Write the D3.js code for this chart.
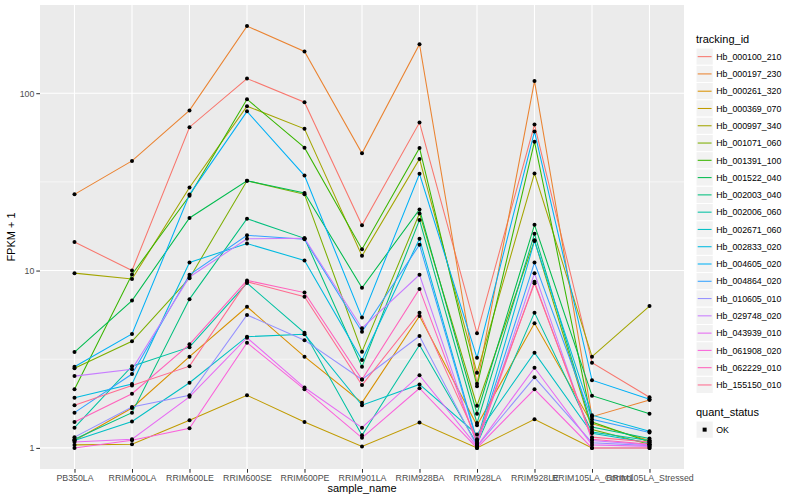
<!DOCTYPE html>
<html>
<head>
<meta charset="utf-8">
<script src="https://cdn.jsdelivr.net/npm/d3@7"></script>
<style>
  body { margin: 0; background: #fff; }
  svg text { font-family: "Liberation Sans", Arial, sans-serif; }
</style>
</head>
<body>
<div id="chart"></div>
<script>
// Samples along the x axis
const samples = ["PB350LA", "RRIM600LA", "RRIM600LE", "RRIM600SE", "RRIM600PE",
    "RRIM901LA", "RRIM928BA", "RRIM928LA", "RRIM928LE", "RRIM105LA_Control", "RRIM105LA_Stressed"];

// Gene ids (legend order)
const trackingIds = ["Hb_000100_210", "Hb_000197_230", "Hb_000261_320", "Hb_000369_070",
    "Hb_000997_340", "Hb_001071_060", "Hb_001391_100", "Hb_001522_040", "Hb_002003_040",
    "Hb_002006_060", "Hb_002671_060", "Hb_002833_020", "Hb_004605_020", "Hb_004864_020",
    "Hb_010605_010", "Hb_029748_020", "Hb_043939_010", "Hb_061908_020", "Hb_062229_010",
    "Hb_155150_010"];

// FPKM + 1 per gene, one value per sample
const fpkm = [
    [14.5, 10.0, 64.3, 121, 89, 18.0, 68.3, 4.43, 66.5, 3.02, 1.93],
    [26.9, 41.5, 80, 239, 172, 45.8, 189, 2.3, 117, 1.50, 1.86],
    [1.10, 1.68, 3.27, 6.25, 3.27, 1.80, 5.54, 1.34, 5.04, 1.37, 1.10],
    [1.04, 1.05, 1.43, 1.98, 1.40, 1.02, 1.39, 1.00, 1.45, 1.00, 1.00],
    [9.67, 8.97, 29.4, 84.5, 63, 12.1, 42.6, 2.65, 35.3, 3.27, 6.31],
    [2.81, 3.99, 9.06, 32.1, 26.9, 3.49, 21.0, 1.73, 14.8, 1.27, 1.05],
    [2.14, 9.5, 26.4, 92.5, 49.3, 13.2, 49.1, 2.23, 53.3, 1.40, 1.08],
    [3.47, 6.77, 19.8, 32.1, 27.4, 8.0, 22.1, 1.56, 18.1, 1.97, 1.56],
    [1.12, 1.58, 6.9, 19.6, 15.2, 2.87, 19.3, 1.38, 16.1, 1.31, 1.13],
    [1.30, 2.89, 3.7, 8.5, 4.46, 1.18, 3.80, 1.05, 5.79, 1.23, 1.10],
    [1.10, 1.41, 2.33, 4.24, 4.37, 1.74, 2.28, 1.19, 3.44, 1.21, 1.07],
    [1.92, 2.29, 11.1, 14.2, 11.4, 3.13, 15.1, 1.10, 14.7, 1.53, 1.24],
    [2.87, 4.39, 26.8, 79, 34.3, 5.43, 35.1, 3.22, 60.8, 2.41, 1.88],
    [1.58, 2.61, 9.47, 15.8, 15.0, 4.52, 14.0, 1.08, 11.1, 1.45, 1.22],
    [1.15, 1.70, 1.98, 5.62, 4.05, 2.43, 4.27, 1.02, 2.50, 1.07, 1.03],
    [2.54, 2.78, 9.2, 15.1, 15.2, 4.73, 9.47, 1.04, 9.67, 1.10, 1.04],
    [1.08, 1.12, 1.94, 4.18, 2.19, 1.30, 2.57, 1.02, 2.83, 1.04, 1.02],
    [1.00, 1.105, 1.29, 3.92, 2.14, 1.14, 2.17, 1.00, 2.14, 1.00, 1.00],
    [1.40, 2.02, 3.84, 8.8, 7.51, 2.43, 7.88, 1.06, 8.65, 1.12, 1.05],
    [1.74, 2.25, 2.89, 8.65, 7.11, 2.26, 5.79, 1.12, 8.47, 1.15, 1.08]
];

const yTicks = [1, 10, 100];
const yMinor = [Math.sqrt(10), Math.sqrt(1000)];
const statusLevels = ["OK"];

// ggplot hue palette for 20 levels
const palette = ["#F8766D", "#EA8331", "#D89000", "#C09B00", "#A3A500", "#7CAE00", "#39B600",
    "#00BB4E", "#00BF7D", "#00C1A3", "#00BFC4", "#00BAE0", "#00B0F6", "#35A2FF", "#9590FF",
    "#C77CFF", "#E76BF3", "#FA62DB", "#FF62BC", "#FF6C90"];

const width = 800, height = 500;
const panel = { left: 40, right: 684, top: 5, bottom: 469 };

const svg = d3.select("#chart").append("svg")
    .attr("width", width)
    .attr("height", height);

// Scales
const x = d3.scalePoint()
    .domain(samples)
    .range([panel.left, panel.right])
    .padding(0.6);

const allVals = fpkm.flat();
const lo = Math.log10(d3.min(allVals)), hi = Math.log10(d3.max(allVals));
const pad = (hi - lo) * 0.05;
const y = d3.scaleLog()
    .domain([Math.pow(10, lo - pad), Math.pow(10, hi + pad)])
    .range([panel.bottom, panel.top]);

const color = d3.scaleOrdinal().domain(trackingIds).range(palette);

// Panel background and grid
svg.append("rect")
    .attr("x", panel.left).attr("y", panel.top)
    .attr("width", panel.right - panel.left).attr("height", panel.bottom - panel.top)
    .attr("fill", "#EBEBEB");

const grid = svg.append("g");
grid.selectAll(".minor").data(yMinor).enter().append("line")
    .attr("x1", panel.left).attr("x2", panel.right)
    .attr("y1", d => y(d)).attr("y2", d => y(d))
    .attr("stroke", "#fff").attr("stroke-width", 0.55);
grid.selectAll(".hmajor").data(yTicks).enter().append("line")
    .attr("x1", panel.left).attr("x2", panel.right)
    .attr("y1", d => y(d)).attr("y2", d => y(d))
    .attr("stroke", "#fff").attr("stroke-width", 1.1);
grid.selectAll(".vmajor").data(samples).enter().append("line")
    .attr("x1", d => x(d)).attr("x2", d => x(d))
    .attr("y1", panel.top).attr("y2", panel.bottom)
    .attr("stroke", "#fff").attr("stroke-width", 1.1);

// Lines
const line = d3.line()
    .x((d, i) => x(samples[i]))
    .y(d => y(d));

svg.append("g").selectAll("path")
    .data(fpkm)
    .enter().append("path")
    .attr("d", d => line(d))
    .attr("fill", "none")
    .attr("stroke", (d, i) => color(trackingIds[i]))
    .attr("stroke-width", 1.05);

// Points
const pts = [];
fpkm.forEach((row, i) => row.forEach((v, j) => pts.push({ id: trackingIds[i], sample: samples[j], v })));
svg.append("g").selectAll("circle")
    .data(pts)
    .enter().append("circle")
    .attr("cx", d => x(d.sample))
    .attr("cy", d => y(d.v))
    .attr("r", 2)
    .attr("fill", "#000");

// Axes
const yAxis = d3.axisLeft(y).tickValues(yTicks).tickFormat(d3.format("d")).tickSize(3.7).tickPadding(2);
const gy = svg.append("g").attr("transform", `translate(${panel.left},0)`).call(yAxis);
const xAxis = d3.axisBottom(x).tickSize(3.7).tickPadding(2);
const gx = svg.append("g").attr("transform", `translate(0,${panel.bottom})`).call(xAxis);

[gx, gy].forEach(g => {
    g.select(".domain").remove();
    g.selectAll(".tick line").attr("stroke", "#333").attr("stroke-width", 1.05);
    g.selectAll(".tick text").attr("fill", "#4D4D4D").style("font-size", "8.8px");
});

svg.append("text")
    .attr("x", (panel.left + panel.right) / 2)
    .attr("y", 492)
    .attr("text-anchor", "middle")
    .style("font-size", "11px")
    .text("sample_name");

svg.append("text")
    .attr("transform", `translate(15,${(panel.top + panel.bottom) / 2}) rotate(-90)`)
    .attr("text-anchor", "middle")
    .style("font-size", "11px")
    .text("FPKM + 1");

// Legend: tracking_id
const legend = svg.append("g").attr("transform", "translate(696,0)");
legend.append("text").attr("x", 0).attr("y", 43).style("font-size", "11px").text("tracking_id");

const keySize = 17.28, keyTop = 48;
const item = legend.selectAll(".item").data(trackingIds).enter().append("g")
    .attr("transform", (d, i) => `translate(0,${keyTop + i * keySize})`);
item.append("rect")
    .attr("width", keySize).attr("height", keySize)
    .attr("fill", "#F2F2F2").attr("stroke", "#fff").attr("stroke-width", 1);
item.append("line")
    .attr("x1", 1.7).attr("x2", keySize - 1.7)
    .attr("y1", keySize / 2).attr("y2", keySize / 2)
    .attr("stroke", d => color(d)).attr("stroke-width", 1.05);
item.append("text")
    .attr("x", keySize + 3).attr("y", keySize / 2 + 3.2)
    .style("font-size", "8.8px")
    .text(d => d);

// Legend: quant_status
const legend2 = svg.append("g").attr("transform", "translate(696,0)");
legend2.append("text").attr("x", 0).attr("y", 416).style("font-size", "11px").text("quant_status");
const item2 = legend2.selectAll(".item").data(statusLevels).enter().append("g")
    .attr("transform", (d, i) => `translate(0,${421 + i * keySize})`);
item2.append("rect")
    .attr("width", keySize).attr("height", keySize)
    .attr("fill", "#F2F2F2").attr("stroke", "#fff").attr("stroke-width", 1);
item2.append("rect")
    .attr("x", keySize / 2 - 2).attr("y", keySize / 2 - 2)
    .attr("width", 4).attr("height", 4)
    .attr("fill", "#000");
item2.append("text")
    .attr("x", keySize + 3).attr("y", keySize / 2 + 3.2)
    .style("font-size", "8.8px")
    .text(d => d);
</script>
</body>
</html>
